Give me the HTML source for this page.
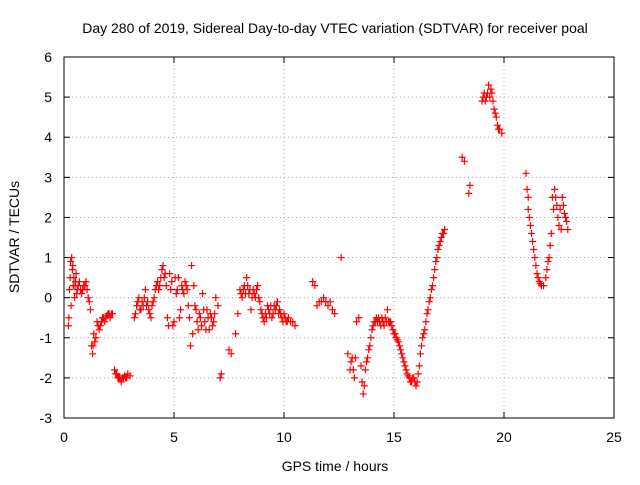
<!DOCTYPE html>
<html><head><meta charset="utf-8"><style>
body{margin:0;background:#fff;font-family:"Liberation Sans",sans-serif}
svg text{font-family:"Liberation Sans",sans-serif;font-size:14px;fill:#000}
</style></head><body>
<svg id="chart" width="640" height="480" viewBox="0 0 640 480">
<text x="335" y="33" text-anchor="middle">Day 280 of 2019, Sidereal Day-to-day VTEC variation (SDTVAR) for receiver poal</text>
<g id="grid"></g>
<g id="axes"></g>
<g id="marks"></g>
<text x="335" y="471" text-anchor="middle">GPS time / hours</text>
<text transform="translate(19,237) rotate(-90)" text-anchor="middle">SDTVAR / TECUs</text>
</svg>
<script>
const xTicks=[0,5,10,15,20,25];
const yTicks=[-3,-2,-1,0,1,2,3,4,5,6];
const times=[0.2,0.25,0.3,0.35,0.4,0.45,0.5,0.55,0.6,0.7,0.8,0.9,1.0,1.1,1.2,1.25,1.3,1.35,1.4,1.5,1.6,1.7,1.8,1.9,2.0,2.1,2.2,2.3,2.4,2.5,2.6,2.7,2.8,2.9,3.0,3.2,3.3,3.4,3.5,3.6,3.7,3.8,3.9,4.0,4.1,4.2,4.3,4.4,4.5,4.6,4.7,4.8,4.9,5.0,5.1,5.2,5.3,5.4,5.5,5.6,5.7,5.75,5.8,5.85,5.9,6.0,6.1,6.2,6.3,6.4,6.5,6.6,6.7,6.8,6.9,7.0,7.1,7.15,7.5,7.6,7.8,7.9,8.0,8.1,8.2,8.3,8.4,8.5,8.6,8.7,8.8,8.9,9.0,9.1,9.2,9.3,9.4,9.5,9.6,9.7,9.8,9.9,10.0,10.1,10.2,10.4,10.5,11.3,11.4,11.5,11.6,11.7,11.8,11.9,12.0,12.1,12.2,12.3,12.6,12.9,13.0,13.1,13.2,13.3,13.4,13.5,13.6,13.7,13.8,13.9,14.0,14.1,14.2,14.3,14.4,14.5,14.6,14.7,14.8,14.9,15.0,15.1,15.2,15.3,15.4,15.5,15.6,15.7,15.8,15.9,16.0,16.1,16.2,16.3,16.4,16.5,16.6,16.7,16.8,16.9,17.0,17.1,17.2,17.3,18.1,18.2,18.4,18.45,19.0,19.1,19.2,19.3,19.4,19.5,19.6,19.7,19.8,19.9,21.0,21.05,21.1,21.2,21.3,21.4,21.5,21.6,21.7,21.8,21.9,22.0,22.1,22.2,22.3,22.4,22.5,22.6,22.7,22.8,22.9];
const values=[-0.7,0.2,0.9,1.0,0.8,0.5,0.3,0.6,0.2,0.4,0.1,0.3,0.4,0.0,-0.3,-1.2,-1.4,-0.9,-1.1,-0.6,-0.8,-0.6,-0.5,-0.5,-0.4,-0.5,-0.4,-1.8,-1.9,-2.0,-2.1,-2.0,-2.0,-1.9,-1.95,-0.5,-0.2,0.0,-0.3,-0.2,0.2,-0.1,-0.4,-0.2,0.0,0.3,0.2,0.5,0.8,0.6,-0.5,0.6,0.4,-0.6,0.1,0.5,-0.3,0.2,0.4,0.2,-0.5,-1.2,0.8,-0.9,0.3,-0.3,-0.8,-0.5,0.1,-0.6,-0.3,-0.8,-0.5,-0.6,0.0,-0.2,-2.0,-1.9,-1.3,-1.4,-0.9,-0.4,0.2,0.0,0.3,0.5,0.1,-0.3,0.2,0.0,0.3,-0.1,-0.4,-0.6,-0.5,-0.3,-0.2,-0.4,-0.3,-0.1,-0.3,-0.5,-0.4,-0.6,-0.5,-0.6,-0.7,0.4,0.3,-0.2,-0.1,-0.1,0.0,-0.1,-0.2,-0.1,-0.3,-0.4,1.0,-1.4,-1.8,-1.5,-2.0,-0.6,-0.5,-1.7,-2.4,-1.8,-1.5,-1.2,-0.8,-0.6,-0.5,-0.5,-0.7,-0.6,-0.5,-0.3,-0.6,-0.7,-0.9,-1.0,-1.1,-1.3,-1.5,-1.7,-1.9,-2.0,-2.1,-2.0,-2.2,-1.9,-1.4,-1.0,-0.8,-0.4,-0.1,0.2,0.5,0.9,1.2,1.4,1.6,1.7,3.5,3.4,2.6,2.8,4.9,5.1,5.0,5.3,5.2,4.9,4.6,4.3,4.2,4.1,3.1,2.7,2.2,1.8,1.4,1.0,0.6,0.4,0.3,0.3,0.5,0.9,1.3,2.5,2.7,2.3,1.8,1.7,2.3,2.0,1.7];
const extraTimes=[0.22,0.28,0.32,0.38,0.42,0.48,0.52,0.58,0.65,0.75,0.85,0.95,1.05,1.15,1.32,1.45,1.55,1.65,1.75,1.85,1.95,2.05,2.15,2.35,2.45,2.55,2.65,2.75,2.85,3.25,3.35,3.45,3.55,3.65,3.75,3.85,3.95,4.05,4.15,4.25,4.35,4.45,4.55,4.65,4.75,4.85,4.95,5.05,5.15,5.25,5.35,5.45,5.55,5.65,5.95,6.05,6.15,6.25,6.35,6.45,6.55,6.65,6.75,6.85,8.05,8.15,8.25,8.35,8.45,8.55,8.65,8.75,8.85,8.95,9.05,9.15,9.25,9.35,9.45,9.55,9.65,9.75,9.85,9.95,10.05,10.15,10.3,13.05,13.15,13.25,13.55,13.65,13.75,13.85,13.95,14.05,14.15,14.25,14.35,14.45,14.55,14.65,14.75,14.85,14.95,15.05,15.15,15.25,15.35,15.45,15.55,15.65,15.75,15.85,15.95,16.05,16.15,16.25,16.35,16.45,16.55,16.65,16.75,16.85,16.95,17.05,17.15,17.25,19.05,19.15,19.25,19.35,19.45,19.55,19.65,19.75,21.1,21.15,21.25,21.35,21.45,21.55,21.65,21.95,22.05,22.15,22.25,22.35,22.45,22.55,22.65,22.75,22.85];
const extraValues=[-0.5,0.5,-0.2,0.7,0.3,0.0,0.4,0.1,0.3,0.2,0.2,0.3,0.2,-0.1,-1.2,-1.0,-0.7,-0.7,-0.5,-0.6,-0.45,-0.4,-0.4,-1.9,-2.0,-2.0,-2.0,-1.95,-2.0,-0.4,-0.1,-0.3,-0.1,0.0,-0.2,-0.3,-0.5,-0.1,0.2,0.4,0.3,0.7,0.5,0.3,-0.7,0.2,-0.7,0.5,0.2,-0.5,0.3,0.1,0.3,-0.2,-0.2,-0.6,-0.4,-0.7,-0.3,-0.8,-0.5,-0.4,-0.7,-0.4,0.1,0.2,0.1,0.3,0.2,0.0,0.1,0.2,0.0,-0.3,-0.5,-0.4,-0.2,-0.4,-0.5,-0.2,-0.2,-0.4,-0.4,-0.6,-0.5,-0.6,-0.6,-1.6,-1.8,-1.5,-2.1,-2.2,-1.6,-1.3,-1.0,-0.7,-0.6,-0.6,-0.6,-0.5,-0.7,-0.6,-0.6,-0.6,-0.8,-0.9,-1.05,-1.2,-1.4,-1.6,-1.8,-1.95,-2.1,-2.0,-2.1,-2.1,-1.7,-1.2,-0.9,-0.6,-0.3,0.0,0.3,0.7,1.0,1.3,1.5,1.6,5.0,4.9,5.1,5.0,5.1,4.7,4.5,4.2,2.5,2.0,1.6,1.2,0.8,0.5,0.35,0.7,1.0,1.6,2.2,2.5,2.0,2.2,2.5,2.1,1.9];
const L=64,R=614,T=57,B=418,xMin=0,xMax=25,yMin=-3,yMax=6;
const xs=v=>L+(v-xMin)/(xMax-xMin)*(R-L);
const ys=v=>B-(v-yMin)/(yMax-yMin)*(B-T);
const NS="http://www.w3.org/2000/svg";
const grid=document.getElementById('grid'),axes=document.getElementById('axes'),marks=document.getElementById('marks');
function mk(tag,attrs,parent){const e=document.createElementNS(NS,tag);for(const k in attrs)e.setAttribute(k,attrs[k]);parent.appendChild(e);return e;}
xTicks.forEach(t=>{const x=xs(t);
 if(t>xMin&&t<xMax){const g=mk('line',{x1:x,x2:x,y1:T,y2:B,stroke:'#a0a0a0','stroke-dasharray':'1,3'},grid);}
 mk('line',{x1:x,x2:x,y1:B,y2:B-6,stroke:'#000'},axes);mk('line',{x1:x,x2:x,y1:T,y2:T+6,stroke:'#000'},axes);
 const tx=mk('text',{x:x,y:B+24,'text-anchor':'middle'},axes);tx.textContent=t;
 
 });
yTicks.forEach(t=>{const y=ys(t);
 if(t>yMin&&t<yMax){const g=mk('line',{x1:L,x2:R,y1:y,y2:y,stroke:'#a0a0a0','stroke-dasharray':'1,3'},grid);}
 mk('line',{x1:L,x2:L+6,y1:y,y2:y,stroke:'#000'},axes);mk('line',{x1:R,x2:R-6,y1:y,y2:y,stroke:'#000'},axes);
 const tx=mk('text',{x:L-12,y:y+5,'text-anchor':'end'},axes);tx.textContent=t;
 
 });
const fr=mk('rect',{x:L,y:T,width:R-L,height:B-T,fill:'none',stroke:'#000'},axes);


function plot(ts,vs){ts.forEach((t,i)=>{const x=xs(t),y=ys(vs[i]);
 const p=mk('path',{d:`M${x-3.5},${y}H${x+3.5}M${x},${y-3.5}V${y+3.5}`,stroke:'#ff0000','stroke-width':1.2,fill:'none'},marks);
 
 });}
plot(times,values);
plot(extraTimes,extraValues);
</script>
</body></html>
